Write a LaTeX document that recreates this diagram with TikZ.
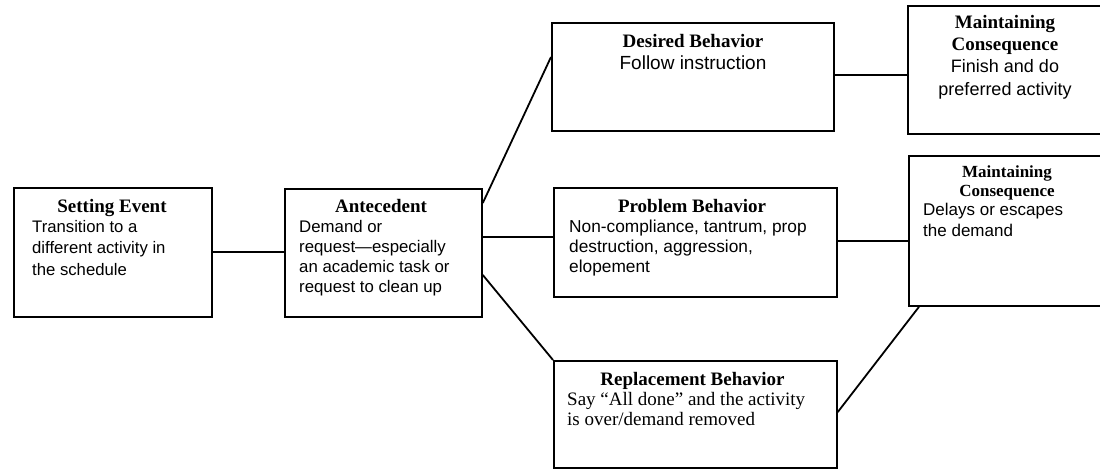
\documentclass[tikz,border=0pt]{standalone}
\usepackage{fontspec}
\setmainfont{Liberation Serif}
\newfontfamily\arialf[Ligatures=TeX]{Liberation Sans}
\usetikzlibrary{calc}
\tikzset{
  box/.style={draw, line width=1.8pt, anchor=north west, inner sep=0pt, rectangle},
  link/.style={line width=1.8pt},
  ttl/.style={inner sep=0pt, font=\fontsize{19}{22}\selectfont\bfseries, align=center},
  bodysans/.style={inner sep=0pt, anchor=north west, align=left},
}
\begin{document}
\begin{tikzpicture}[x=1pt,y=-1pt]
\useasboundingbox (0,0) rectangle (1100,470);
% boxes
\node[box, minimum width=198pt, minimum height=129pt] (set) at (13,187) {};
\node[box, minimum width=197pt, minimum height=128pt] (ant) at (284,188) {};
\node[box, minimum width=282pt, minimum height=108pt] (des) at (551,22) {};
\node[box, minimum width=283pt, minimum height=109pt] (prob) at (553,187) {};
\node[box, minimum width=283pt, minimum height=107pt] (rep) at (553,360) {};
\node[box, minimum width=196pt, minimum height=128pt] (mA) at (907,5) {};
\node[box, minimum width=197pt, minimum height=150pt] (mB) at (908,155) {};
% texts
\node[ttl, anchor=base] (setT) at (112,213) {Setting Event};
\node[bodysans, font=\arialf\fontsize{16.7}{21.5}\selectfont] (setB) at (32,219.7)
  {Transition to a\\different activity in\\the schedule};
\node[ttl, anchor=base] (antT) at (381,213) {Antecedent};
\node[bodysans, font=\arialf\fontsize{16.8}{20.2}\selectfont] (antB) at (299,219.7)
  {Demand or\\request—especially\\an academic task or\\request to clean up};
\node[ttl, anchor=base] (desT) at (693,48) {Desired Behavior};
\node[inner sep=0pt, anchor=base, font=\arialf\fontsize{19}{22}\selectfont] (desB) at (693,70) {Follow instruction};
\node[ttl, anchor=north] (mAT) at (1005,15) {Maintaining\\Consequence};
\node[inner sep=0pt, anchor=north, align=center, font=\arialf\fontsize{18}{23.5}\selectfont] (mAB) at (1005,59)
  {Finish and do\\preferred activity};
\node[ttl, anchor=base] (probT) at (692,213) {Problem Behavior};
\node[bodysans, font=\arialf\fontsize{17.3}{20}\selectfont] (probB) at (569,219.7)
  {Non-compliance, tantrum, prop\\destruction, aggression,\\elopement};
\node[ttl, anchor=north, font=\fontsize{17}{19}\selectfont\bfseries] (mBT) at (1007,165.5) {Maintaining\\Consequence};
\node[bodysans, font=\arialf\fontsize{17}{21}\selectfont] (mBB) at (923,202.7)
  {Delays or escapes\\the demand};
\node[ttl, anchor=base] (repT) at (692.5,385) {Replacement Behavior};
\node[bodysans, font=\fontsize{19}{20}\selectfont] (repB) at (567,392)
  {Say “All done” and the activity\\is over/demand removed};
% connectors
\draw[link] ($(set.north east)+(0,65)$) -- ($(ant.north west)+(0,64)$);
\draw[link] ($(ant.north east)+(0,15)$) -- ($(des.north west)+(0,35)$);
\draw[link] ($(ant.north east)+(0,49)$) -- ($(prob.north west)+(0,50)$);
\draw[link] ($(ant.north east)+(0,87)$) -- (rep.north west);
\draw[link] ($(des.north east)+(0,53)$) -- ($(mA.north west)+(0,70)$);
\draw[link] ($(prob.north east)+(0,54)$) -- ($(mB.north west)+(0,86)$);
\draw[link] ($(rep.north east)+(0,52)$) -- ($(mB.south west)+(11,0)$);
\end{tikzpicture}
\end{document}
